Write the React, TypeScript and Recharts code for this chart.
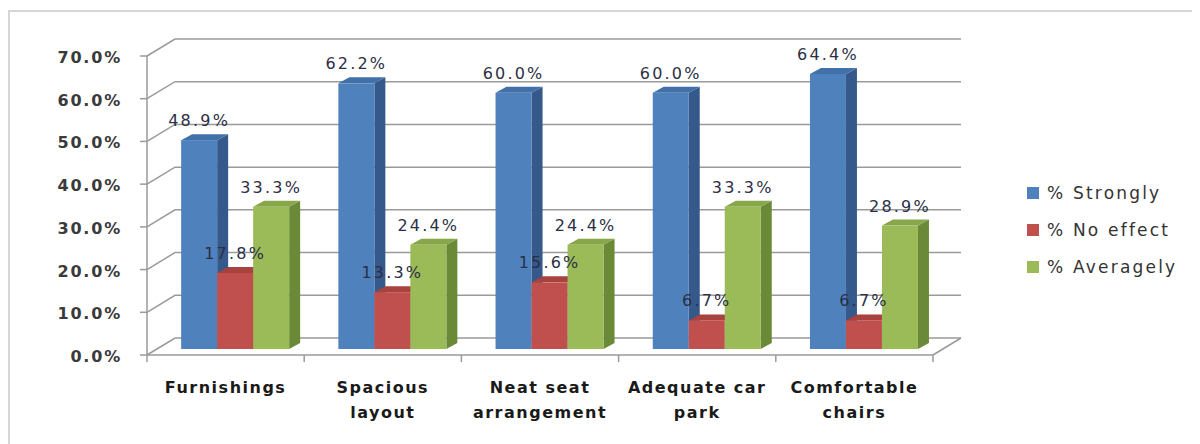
import { BarChart, Bar, XAxis, YAxis, CartesianGrid, Legend, LabelList } from 'recharts'

const categories = ['Furnishings', 'Spacious layout', 'Neat seat arrangement', 'Adequate car park', 'Comfortable chairs']
const strongly = [48.9, 62.2, 60.0, 60.0, 64.4]
const noEffect = [17.8, 13.3, 15.6, 6.7, 6.7]
const averagely = [33.3, 24.4, 24.4, 33.3, 28.9]
const yTicks = [0, 10, 20, 30, 40, 50, 60, 70]

const data = categories.map((name, i) => ({
  name,
  strongly: strongly[i],
  noEffect: noEffect[i],
  averagely: averagely[i],
}))

const series = [
  { key: 'strongly', name: '% Strongly', front: '#4F81BD', side: '#34598A', top: '#4270A8' },
  { key: 'noEffect', name: '% No effect', front: '#C0504D', side: '#8A3431', top: '#A8423F' },
  { key: 'averagely', name: '% Averagely', front: '#9BBB59', side: '#6A8A37', top: '#88A64A' },
]

const FONT = '"DejaVu Sans", Verdana, sans-serif'
const GRID = '#9a9a9a'
// bar plane offset from front plane, bar depth, back wall offset
const PX = 9
const PY = -6
const DX = 11
const DY = -6
const WX = 28
const WY = -17

function wrap(label: string, max = 12) {
  const words = label.split(' ')
  const lines: string[] = []
  let cur = ''
  for (const w of words) {
    const next = cur ? cur + ' ' + w : w
    if (next.length > max && cur) {
      lines.push(cur)
      cur = w
    } else cur = next
  }
  if (cur) lines.push(cur)
  return lines
}

function Box3D(props: any) {
  const { x, y, width, height, colors } = props
  if (width == null || height == null) return null
  const fx = x + PX
  const fy = y + PY
  const w = width
  const h = height
  return (
    <g>
      <polygon
        points={`${fx + w},${fy} ${fx + w + DX},${fy + DY} ${fx + w + DX},${fy + h + DY} ${fx + w},${fy + h}`}
        fill={colors.side}
      />
      <polygon
        points={`${fx},${fy} ${fx + DX},${fy + DY} ${fx + w + DX},${fy + DY} ${fx + w},${fy}`}
        fill={colors.top}
      />
      <rect x={fx} y={fy} width={w} height={h} fill={colors.front} />
    </g>
  )
}

function ValueLabel(p: any) {
  const vb = p.viewBox ?? p
  const x = vb.x ?? p.x
  const y = vb.y ?? p.y
  const width = vb.width ?? p.width
  if (x == null || y == null) return null
  return (
    <text
      x={x + width / 2 + PX}
      y={y + PY - 14}
      textAnchor="middle"
      fontFamily={FONT}
      fontSize={16}
      letterSpacing={2.2}
      fill="#2b2f45"
    >
      {`${Number(p.value).toFixed(1)}%`}
    </text>
  )
}

function YTick(p: any) {
  const { x, y, payload } = p
  return (
    <text
      x={x}
      y={y + 7}
      textAnchor="end"
      fontFamily={FONT}
      fontSize={16}
      fontWeight="bold"
      letterSpacing={1.8}
      fill="#3a3a3a"
    >
      {`${Number(payload.value).toFixed(1)}%`}
    </text>
  )
}

function CatTick(p: any) {
  const { x, y, payload, index, visibleTicksCount, width } = p
  const band = payload?.offset ? payload.offset * 2 : width / visibleTicksCount
  const lines = wrap(String(payload.value))
  const left = x - band / 2
  const right = x + band / 2
  const last = index === visibleTicksCount - 1
  return (
    <g>
      <line x1={left} y1={y} x2={left} y2={y + 7} stroke={GRID} strokeWidth={1.5} />
      {last && <line x1={right} y1={y} x2={right} y2={y + 7} stroke={GRID} strokeWidth={1.5} />}
      {last && <line x1={right} y1={y} x2={right + WX} y2={y + WY} stroke={GRID} strokeWidth={1.5} />}
      <text
        x={x}
        y={y + 38}
        textAnchor="middle"
        fontFamily={FONT}
        fontSize={16}
        fontWeight="bold"
        letterSpacing={1.5}
        fill="#1a1a1a"
      >
        {lines.map((l, i) => (
          <tspan key={i} x={x} dy={i ? 25 : 0}>
            {l}
          </tspan>
        ))}
      </text>
    </g>
  )
}

function GridLine(p: any) {
  const { x1, y1, x2 } = p
  return (
    <path
      key={p.key ?? `h-${p.index}`}
      d={`M${x1},${y1} L${x1 + WX},${y1 + WY} L${x2 + WX},${y1 + WY}`}
      stroke={GRID}
      strokeWidth={1.5}
      fill="none"
    />
  )
}

function LegendBox() {
  return (
    <div style={{ fontFamily: FONT, fontSize: 17, color: '#333', letterSpacing: 2.2 }}>
      {series.map((s) => (
        <div key={s.key} style={{ display: 'flex', alignItems: 'center', height: 37, whiteSpace: 'nowrap' }}>
          <span style={{ display: 'inline-block', width: 12, height: 12, background: s.front, marginRight: 8 }} />
          {s.name}
        </div>
      ))}
    </div>
  )
}

export default function App() {
  return (
    <div style={{ position: 'relative', width: 1184, height: 436, background: '#fff' }}>
      <BarChart
        width={1184}
        height={436}
        data={data}
        margin={{ top: 48, right: 259, bottom: 59, left: 79 }}
        barCategoryGap="16%"
        barGap={0}
      >
        <CartesianGrid vertical={false} horizontal={GridLine} />
        <XAxis
          dataKey="name"
          interval={0}
          height={30}
          tickSize={0}
          tickMargin={0}
          tickLine={false}
          axisLine={{ stroke: GRID, strokeWidth: 1.5 }}
          tick={CatTick}
        />
        <YAxis
          domain={[0, 70]}
          ticks={yTicks}
          width={60}
          tickSize={7}
          tickMargin={18}
          axisLine={{ stroke: GRID, strokeWidth: 1.5 }}
          tickLine={{ stroke: GRID, strokeWidth: 1.5 }}
          tick={YTick}
        />
        <Legend
          layout="vertical"
          align="center"
          verticalAlign="middle"
          content={LegendBox}
          wrapperStyle={{ left: 1019, top: 166, width: 160 }}
        />
        {series.map((s) => (
          <Bar
            key={s.key}
            dataKey={s.key}
            name={s.name}
            fill={s.front}
            isAnimationActive={false}
            shape={(p: any) => <Box3D {...p} colors={s} />}
          >
            <LabelList dataKey={s.key} content={ValueLabel} />
          </Bar>
        ))}
      </BarChart>
      <div
        style={{
          position: 'absolute',
          left: 0,
          top: 2,
          width: 1184,
          height: 440,
          borderTop: '2px solid #d6d6d6',
          borderLeft: '2px solid #d6d6d6',
          pointerEvents: 'none',
        }}
      />
    </div>
  )
}
